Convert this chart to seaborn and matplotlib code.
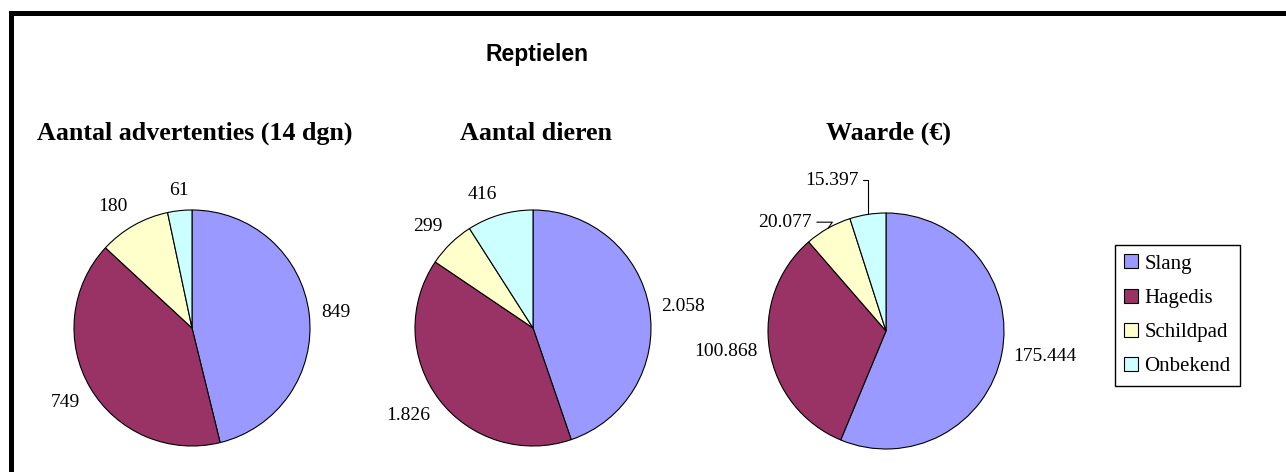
import matplotlib
matplotlib.use("Agg")
import matplotlib.pyplot as plt
from matplotlib.patches import Patch, Rectangle
import numpy as np
import seaborn as sns

# ---- data ----
categories = ["Slang", "Hagedis", "Schildpad", "Onbekend"]
advertenties = [849, 749, 180, 61]
dieren = [2058, 1826, 299, 416]
waarde = [175444, 100868, 20077, 15397]
chart_titles = ["Aantal advertenties (14 dgn)", "Aantal dieren", "Waarde (€)"]
main_title = "Reptielen"

sns.set_theme(style="white")
colors = sns.color_palette(["#9999FF", "#993366", "#FFFFCC", "#CCFFFF"])
plt.rcParams["font.family"] = ["Liberation Serif", "DejaVu Serif"]
plt.rcParams["text.color"] = "black"

W, H = 1286, 472
fig = plt.figure(figsize=(W / 100, H / 100), dpi=100)
fig.patch.set_facecolor("white")


def fmt(v):
    return f"{v:,}".replace(",", ".")


def px_axes(cx, cy, r):
    return fig.add_axes([(cx - r) / W, (H - cy - r) / H, 2 * r / W, 2 * r / H])


def draw_pie(ax, values, leader=None):
    wedges, _ = ax.pie(values, colors=colors, startangle=90, counterclock=False,
                       radius=1.0,
                       wedgeprops=dict(edgecolor="black", linewidth=0.8))
    ax.set_xlim(-1, 1)
    ax.set_ylim(-1, 1)
    ax.set_axis_off()
    for i, (w, v) in enumerate(zip(wedges, values)):
        th = np.deg2rad((w.theta1 + w.theta2) / 2)
        c, s = np.cos(th), np.sin(th)
        if leader is not None and i in leader:
            dx, dy, angB = leader[i]
            ax.annotate(fmt(v), xy=(c, s), xytext=(dx, dy), textcoords="offset pixels",
                        ha="right", va="center", fontsize=14, color="black",
                        arrowprops=dict(arrowstyle="-", color="black", lw=0.8,
                                        shrinkA=1, shrinkB=0,
                                        connectionstyle=f"angle,angleA=0,angleB={angB},rad=0"))
            continue
        d = 1.1
        ha = "center" if abs(c) < 0.2 else ("left" if c > 0 else "right")
        va = "center" if abs(s) < 0.3 else ("bottom" if s > 0 else "top")
        ax.text(d * c, d * s, fmt(v), ha=ha, va=va, fontsize=14, color="black")


R = 118
ax1 = px_axes(192, 328, R)
draw_pie(ax1, advertenties)
ax2 = px_axes(533, 328, R)
draw_pie(ax2, dieren)
ax3 = px_axes(886, 331, R)
draw_pie(ax3, waarde, leader={2: (-16, 6, 55), 3: (-9, 34, 90)})

# titles
fig.text(537 / W, 1 - 55 / H, main_title, ha="center", va="center", color="black",
         fontsize=16.5, fontweight="bold", family=["Liberation Sans", "DejaVu Sans"])
for x, t in zip([195, 536, 888], chart_titles):
    fig.text(x / W, 1 - 133 / H, t, ha="center", va="center", color="black",
             fontsize=18.7, fontweight="bold")

# legend
handles = [Patch(facecolor=c, edgecolor="black", linewidth=0.8) for c in colors]
leg = fig.legend(handles, categories, loc="upper left",
                 bbox_to_anchor=(1115 / W, 1 - 245 / H), frameon=True,
                 fancybox=False, edgecolor="black", framealpha=1,
                 fontsize=15, handlelength=0.65, handleheight=0.65,
                 handletextpad=0.3, labelspacing=0.72, borderpad=0.45,
                 borderaxespad=0)
leg.get_frame().set_linewidth(1.0)
for txt in leg.get_texts():
    txt.set_color("black")

# border lines
fig.add_artist(Rectangle((9 / W, 0), 5 / W, 1 - 11 / H, transform=fig.transFigure,
                         facecolor="black", edgecolor="none"))
fig.add_artist(Rectangle((9 / W, 1 - 16 / H), 1 - 9 / W, 5 / H, transform=fig.transFigure,
                         facecolor="black", edgecolor="none"))

fig.savefig("out.png", dpi=100)
